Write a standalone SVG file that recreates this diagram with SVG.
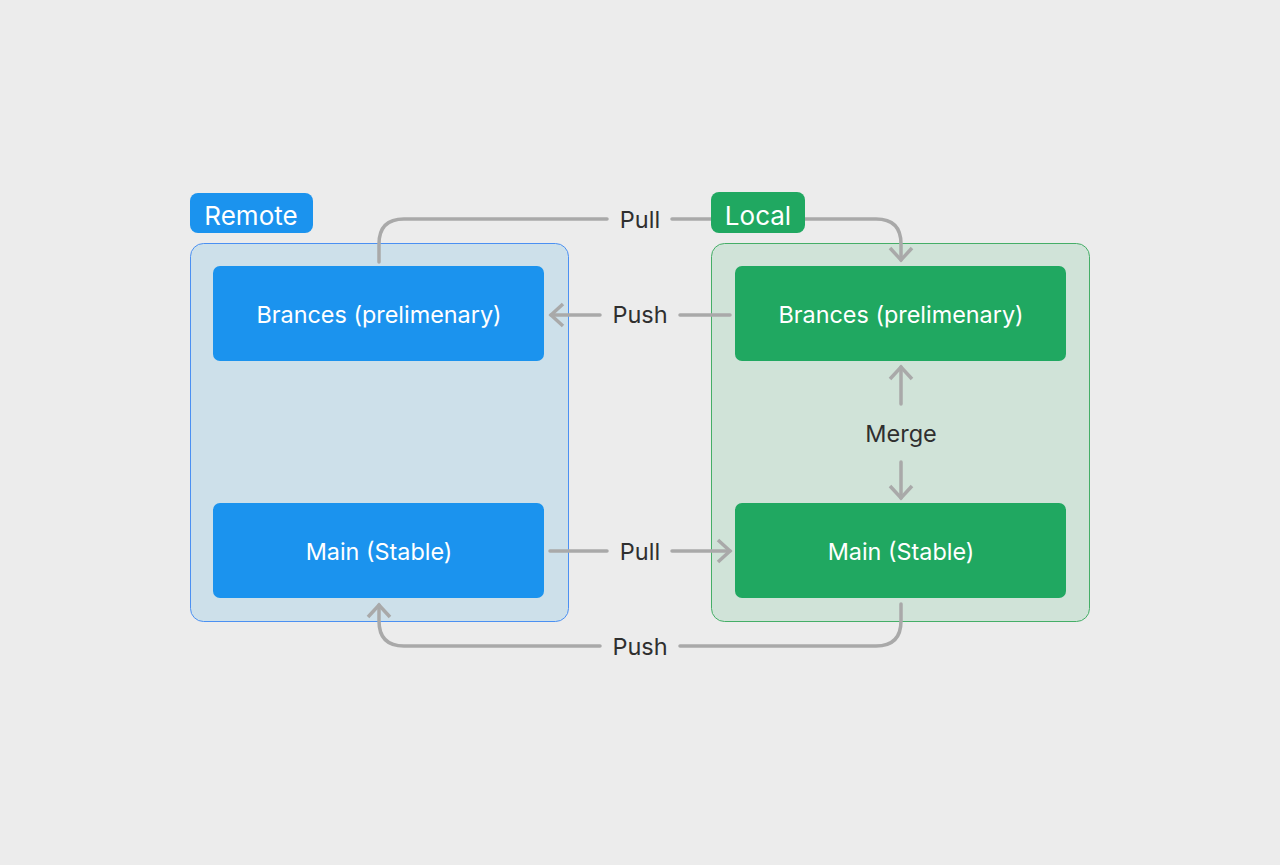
<svg xmlns="http://www.w3.org/2000/svg" width="1280" height="865" viewBox="0 0 1280 865">
<defs>
<marker id="chev" markerUnits="userSpaceOnUse" markerWidth="30" markerHeight="30" viewBox="-15 -15 30 30" refX="0" refY="0" orient="auto" overflow="visible">
<path d="M-12,-11 L0,0 L-12,11" fill="none" stroke="#a9a9a9" stroke-width="3.5"/>
</marker>
</defs>
<style>
.bg{fill:#ececec}
.lbl{font-family:Inter,"Noto Sans","Liberation Sans",sans-serif;font-size:23.5px;fill:#2f2f2f;text-anchor:middle}
.wt{font-family:Inter,"Noto Sans","Liberation Sans",sans-serif;font-size:23.4px;fill:#ffffff;text-anchor:middle}
.tag{font-family:Inter,"Noto Sans","Liberation Sans",sans-serif;font-size:26px;fill:#ffffff;text-anchor:middle}
.con{fill:none;stroke:#a9a9a9;stroke-width:3.5;stroke-linecap:round}
.blue{fill:#1b93ee}
.green{fill:#20a861}
</style>
<rect class="bg" x="0" y="0" width="1280" height="865"/>
<g id="remote-container"><rect x="190.5" y="243.5" width="378" height="378" rx="13" fill="#cde0ea" stroke="#4b90f2" stroke-width="1"/></g>
<g id="local-container"><rect x="711.5" y="243.5" width="378" height="378" rx="13" fill="#d0e3d8" stroke="#45ae67" stroke-width="1"/></g>
<g id="connectors">
<path class="con" d="M379,262 V244 Q379,219 404,219 H607"/>
<path class="con" d="M672,219 H876 Q901,219 901,244 V260" marker-end="url(#chev)"/>
<path class="con" d="M600,315 H551" marker-end="url(#chev)"/>
<path class="con" d="M730,315 H680"/>
<path class="con" d="M901,404 V367" marker-end="url(#chev)"/>
<path class="con" d="M901,462 V498" marker-end="url(#chev)"/>
<path class="con" d="M550,551 H607"/>
<path class="con" d="M672,551 H730" marker-end="url(#chev)"/>
<path class="con" d="M901,604 V621 Q901,646 876,646 H680"/>
<path class="con" d="M600,646 H404 Q379,646 379,621 V605" marker-end="url(#chev)"/>
</g>
<g id="remote-tag"><rect class="blue" x="190" y="193" width="123" height="40" rx="8"/><text class="tag" x="251" y="225">Remote</text></g>
<g id="local-tag"><rect class="green" x="711" y="192" width="94" height="41" rx="8"/><text class="tag" x="758" y="225">Local</text></g>
<g id="remote-branches"><rect class="blue" x="213" y="266" width="331" height="95" rx="7"/><text class="wt" x="379" y="322.5">Brances (prelimenary)</text></g>
<g id="remote-main"><rect class="blue" x="213" y="503" width="331" height="95" rx="7"/><text class="wt" x="379" y="559.5">Main (Stable)</text></g>
<g id="local-branches"><rect class="green" x="735" y="266" width="331" height="95" rx="7"/><text class="wt" x="901" y="322.5">Brances (prelimenary)</text></g>
<g id="local-main"><rect class="green" x="735" y="503" width="331" height="95" rx="7"/><text class="wt" x="901" y="559.5">Main (Stable)</text></g>
<g id="labels">
<text class="lbl" x="640" y="227.5">Pull</text>
<text class="lbl" x="640" y="322.5">Push</text>
<text class="lbl" x="901" y="441.5">Merge</text>
<text class="lbl" x="640" y="559.5">Pull</text>
<text class="lbl" x="640" y="654.5">Push</text>
</g>
</svg>
